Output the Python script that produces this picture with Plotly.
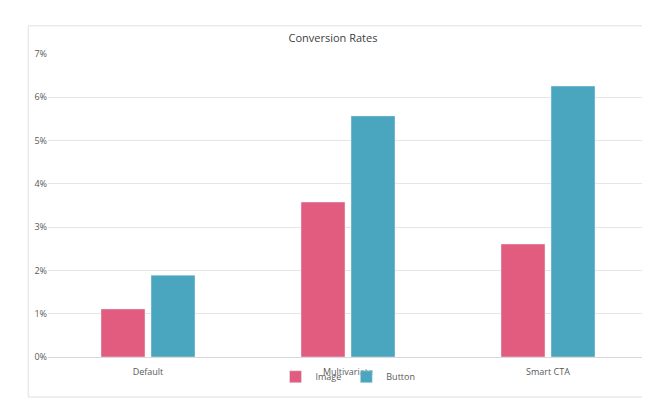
import plotly.graph_objects as go

categories = ["Default", "Multivariate", "Smart CTA"]
image_vals = [1.11, 3.58, 2.61]
button_vals = [1.89, 5.57, 6.26]
tick_vals = [0, 1, 2, 3, 4, 5, 6, 7]
tick_text = [f"{v}%" for v in tick_vals]

fig = go.Figure()
fig.add_bar(name="Image", x=categories, y=image_vals, marker_color="#E15C7E")
fig.add_bar(name="Button", x=categories, y=button_vals, marker_color="#4AA5BF")

font = "Open Sans, Liberation Sans, sans-serif"
fig.update_layout(
    width=650, height=403,
    paper_bgcolor="white", plot_bgcolor="white",
    margin=dict(l=40, r=10, t=46, b=54, autoexpand=False),
    barmode="group", bargap=0.5, bargroupgap=0.12,
    font=dict(family=font, size=9, color="#595959"),
    title=dict(text="Conversion Rates", x=0.5, xanchor="center", y=0.925, yanchor="middle",
               font=dict(size=11, color="#404040")),
    legend=dict(orientation="h", x=0.5, xanchor="center", yref="container", y=0.085, yanchor="middle",
                font=dict(size=9), itemwidth=30, bgcolor="rgba(0,0,0,0)"),
    showlegend=True,
    xaxis=dict(showline=True, linecolor="#d9d9d9", ticks="", tickfont=dict(size=9),
               ticklabelstandoff=6),
    yaxis=dict(range=[0, 7], tickvals=tick_vals, ticktext=tick_text, gridcolor="#e6e6e6",
               zeroline=False, ticks="", tickfont=dict(size=9)),
    shapes=[dict(type="rect", xref="paper", yref="paper", x0=-0.033, x1=1.02, y0=-0.132, y1=1.093,
                 line=dict(color="#e0e0e0", width=1))],
)
fig.write_html("out.html")
